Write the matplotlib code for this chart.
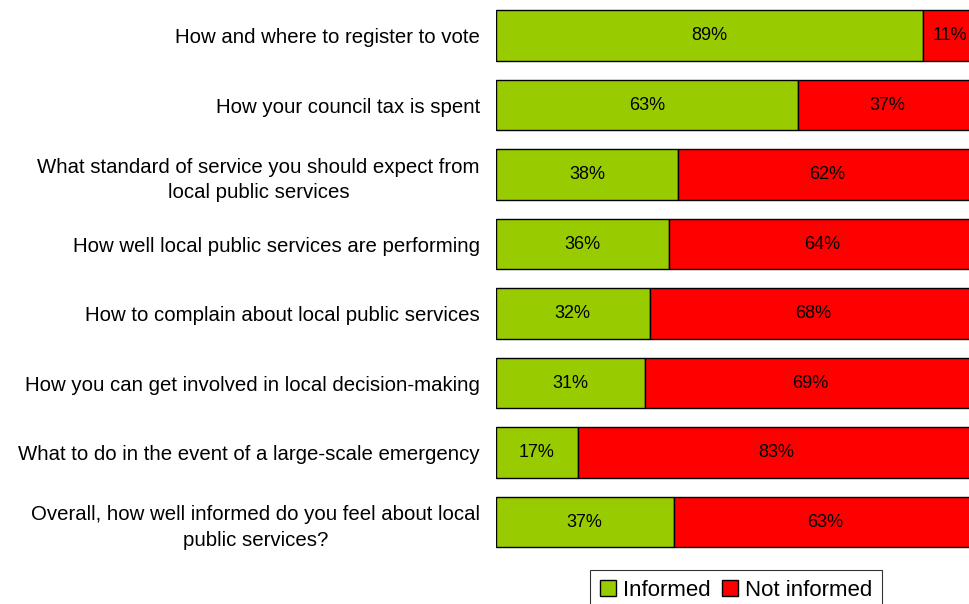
import matplotlib
matplotlib.use("Agg")
import matplotlib.pyplot as plt
from matplotlib.patches import Patch

plt.rcParams['font.family'] = ['Liberation Sans', 'DejaVu Sans']

# Data
questions = [
    "How and where to register to vote",
    "How your council tax is spent",
    "What standard of service you should expect from\nlocal public services",
    "How well local public services are performing",
    "How to complain about local public services",
    "How you can get involved in local decision-making",
    "What to do in the event of a large-scale emergency",
    "Overall, how well informed do you feel about local\npublic services?",
]
informed = [89, 63, 38, 36, 32, 31, 17, 37]
not_informed = [11, 37, 62, 64, 68, 69, 83, 63]

green = '#99cc00'
red = '#ff0000'

fig = plt.figure(figsize=(9.7, 6.04), dpi=100)
ax = fig.add_axes([0.5113, 0.0782, 0.4948, 0.9205])

pos = list(range(len(questions)))
ax.barh(pos, informed, height=0.73, color=green, edgecolor='black', linewidth=1)
ax.barh(pos, not_informed, left=informed, height=0.73, color=red,
        edgecolor='black', linewidth=1)

for i in pos:
    ax.text(informed[i] / 2, i, f"{informed[i]}%", ha='center', va='center', fontsize=13)
    ax.text(informed[i] + not_informed[i] / 2, i, f"{not_informed[i]}%",
            ha='center', va='center', fontsize=13)

ax.set_xlim(0, 100)
ax.set_ylim(len(questions) - 0.5, -0.5)
ax.set_yticks(pos)
ax.set_yticklabels(questions, fontsize=14.7)
for lbl in ax.get_yticklabels():
    lbl.set_multialignment('center')
    lbl.set_linespacing(1.45)
ax.tick_params(axis='y', length=0, pad=11.5)
ax.set_xticks([])
for s in ax.spines.values():
    s.set_visible(False)

handles = [Patch(facecolor=green, edgecolor='black', label='Informed'),
           Patch(facecolor=red, edgecolor='black', label='Not informed')]
leg = fig.legend(handles=handles, loc='upper left', bbox_to_anchor=(0.608, 0.0563),
                 ncol=2, fontsize=16, frameon=True, fancybox=False,
                 handlelength=0.75, handleheight=0.75, handletextpad=0.3,
                 columnspacing=0.5, borderpad=0.45, borderaxespad=0)
leg.get_frame().set_edgecolor('black')
leg.get_frame().set_linewidth(0.8)

fig.savefig('out.png', dpi=100)
